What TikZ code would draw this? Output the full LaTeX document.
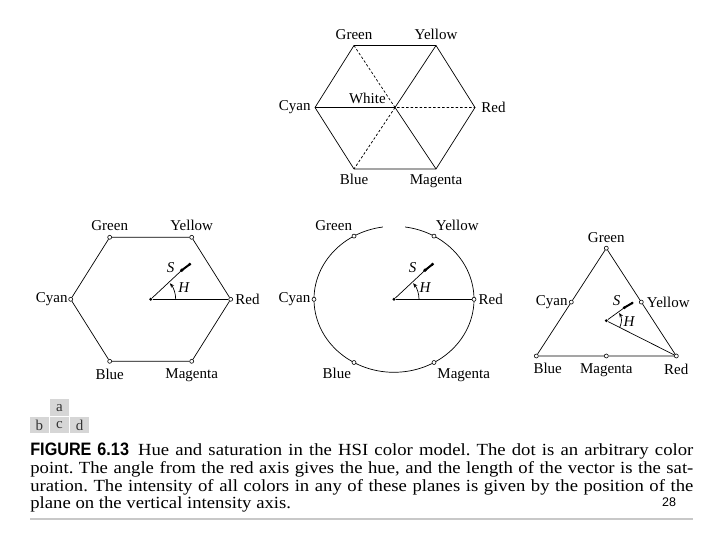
\documentclass[tikz,border=0pt]{standalone}
\usepackage{fontspec}
\setmainfont{Liberation Serif}
\newfontfamily\capfont[FakeStretch=1.1]{Liberation Serif}
\newfontfamily\capsffont[FakeStretch=0.9]{Liberation Sans}
\newfontfamily\pagefont{Liberation Sans}
\usepackage{tikz}
\usetikzlibrary{positioning, arrows.meta, calc}
\definecolor{PanelGray}{RGB}{214,214,214}
\definecolor{RuleGray}{RGB}{200,200,200}
\frenchspacing

\begin{document}
\begin{tikzpicture}[x=1pt, y=1pt, line width=0.7pt,
    lbl/.style={inner sep=0pt, font=\fontsize{15}{15}\selectfont},
    vlbl/.style={inner sep=0pt, font=\fontsize{15}{15}\selectfont\itshape},
    vtx/.style={circle, draw, fill=white, inner sep=0pt, minimum size=4pt, line width=0.6pt},
    cdot/.style={circle, fill, inner sep=0pt, minimum size=3.2pt},
    hueArc/.style={-{Stealth[length=4.5pt, width=3.6pt]}},
    satEnd/.style={line width=2pt, line cap=round},
    panel/.style={fill=PanelGray, inner sep=0pt, minimum width=19.5pt, minimum height=16.7pt,
      text=black!80, font=\fontsize{15}{15}\selectfont},
    capline/.style={inner sep=0pt, anchor=base west, font=\fontsize{17}{18}\capfont}]
  \fill[white] (0,0) rectangle (720,540);
  \useasboundingbox (0,0) rectangle (720,540);

  % a: hexagon with the white point in the middle
  \begin{scope}[shift={(395,432.5)}]
    \coordinate (aR) at (80,0);
    \coordinate (aY) at (41,62);
    \coordinate (aG) at (-41,62);
    \coordinate (aC) at (-80,0);
    \coordinate (aB) at (-41,-61.5);
    \coordinate (aM) at (41,-61.5);
    \coordinate (aW) at (0,0);
    \draw (aG) -- (aY) -- (aR) -- (aM) -- (aB) -- (aC) -- cycle;
    \draw (aC) -- (aW) -- (aY);
    \draw (aW) -- (aM);
    \draw[dash pattern=on 2.5pt off 2pt] (aG) -- (aW) -- (aR);
    \draw[dash pattern=on 2.5pt off 2pt] (aW) -- (aB);
    \node[lbl, above=5pt of aG] (laG) {Green};
    \node[lbl, above=5pt of aY] (laY) {Yellow};
    \node[lbl, left=4pt of aC] (laC) {Cyan};
    \node[lbl, right=6pt of aR] (laR) {Red};
    \node[lbl, below=5pt of aB] (laB) {Blue};
    \node[lbl, below=5pt of aM] (laM) {Magenta};
    \node[lbl, above left=3pt and 9pt of aW] (laW) {White};
  \end{scope}

  % b: hexagon
  \begin{scope}[shift={(150.7,240.7)}]
    \node[vtx] (bR) at (80,0) {};
    \node[vtx] (bY) at (41,62) {};
    \node[vtx] (bG) at (-41,62) {};
    \node[vtx] (bC) at (-80,0) {};
    \node[vtx] (bB) at (-41,-62) {};
    \node[vtx] (bM) at (41,-62) {};
    \node[cdot] (bO) at (0,0) {};
    \coordinate (bP) at (31,29);
    \coordinate (bQ) at (39,35);
    \draw (bG) -- (bY) -- (bR) -- (bM) -- (bB) -- (bC) -- (bG);
    \draw (bO) -- (bR);
    \draw (bO) -- (bP);
    \draw[satEnd] (bP) -- (bQ);
    \fill (bP) circle (1.8pt);
    \fill (bQ) circle (1.6pt);
    \draw[hueArc] (25,0) arc[start angle=0, end angle=40, radius=25pt];
    \node[lbl, above=4pt of bG] (lbG) {Green};
    \node[lbl, above=4pt of bY] (lbY) {Yellow};
    \node[lbl, left=0.5pt of bC] (lbC) {Cyan};
    \node[lbl, right=2pt of bR] (lbR) {Red};
    \node[lbl, below=5pt of bB] (lbB) {Blue};
    \node[lbl, below=5pt of bM] (lbM) {Magenta};
    \node[vlbl] (bS) at (20,32) {S};
    \node[vlbl] (bH) at (33,12) {H};
  \end{scope}

  % c: circle
  \begin{scope}[shift={(394,240.7)}]
    \draw (98:80pt and 73pt) arc[start angle=98, end angle=442, x radius=80pt, y radius=73pt];
    \node[vtx] (cR) at (80,0) {};
    \node[vtx] (cY) at (40,63.2) {};
    \node[vtx] (cG) at (-40,63.2) {};
    \node[vtx] (cC) at (-80,0) {};
    \node[vtx] (cB) at (-40,-63.2) {};
    \node[vtx] (cM) at (40,-63.2) {};
    \node[cdot] (cO) at (0,0) {};
    \coordinate (cP) at (31,29);
    \coordinate (cQ) at (38.5,35);
    \draw (cO) -- (cR);
    \draw (cO) -- (cP);
    \draw[satEnd] (cP) -- (cQ);
    \fill (cP) circle (1.8pt);
    \fill (cQ) circle (1.6pt);
    \draw[hueArc] (25,0) arc[start angle=0, end angle=40, radius=25pt];
    \node[lbl, above left=3pt and 0pt of cG] (lcG) {Green};
    \node[lbl, above right=3pt and 0pt of cY] (lcY) {Yellow};
    \node[lbl, left=1pt of cC] (lcC) {Cyan};
    \node[lbl, right=2pt of cR] (lcR) {Red};
    \node[lbl, below left=4pt and 1pt of cB] (lcB) {Blue};
    \node[lbl, below right=4pt and 1.5pt of cM] (lcM) {Magenta};
    \node[vlbl] (cS) at (18.7,32) {S};
    \node[vlbl] (cH) at (31,12) {H};
  \end{scope}

  % d: triangle
  \begin{scope}[shift={(606.3,219.3)}]
    \node[vtx] (dG) at (0,72.5) {};
    \node[vtx] (dB) at (-70,-35.3) {};
    \node[vtx] (dR) at (70,-35.3) {};
    \node[vtx] (dC) at (-35,18.6) {};
    \node[vtx] (dY) at (35,18.6) {};
    \node[vtx] (dM) at (0,-35.3) {};
    \node[cdot] (dO) at (0,0) {};
    \coordinate (dP) at (18,13);
    \coordinate (dQ) at (26,17.7);
    \draw (dG) -- (dC) -- (dB) -- (dM) -- (dR) -- (dY) -- (dG);
    \draw (dO) -- (dR);
    \draw (dO) -- (dP);
    \draw[satEnd] (dP) -- (dQ);
    \fill (dP) circle (1.6pt);
    \fill (dQ) circle (1.4pt);
    \draw[hueArc] (-27:15pt) arc[start angle=-27, end angle=31, radius=15pt];
    \node[lbl, above=3pt of dG] (ldG) {Green};
    \node[lbl, left=1pt of dC] (ldC) {Cyan};
    \node[lbl, right=3pt of dY] (ldY) {Yellow};
    \node[lbl, anchor=north west] (ldB) at ([xshift=-1.5pt, yshift=-5pt]dB.south west) {Blue};
    \node[lbl, below=5pt of dM] (ldM) {Magenta};
    \node[lbl, below=5pt of dR] (ldR) {Red};
    \node[vlbl] (dS) at (10.4,19.7) {S};
    \node[vlbl] (dH) at (22.7,-1) {H};
  \end{scope}

  % panel key and caption
  \node[panel] (pc) at (59.5,115) {c};
  \node[panel, left=0pt of pc] (pb) {b};
  \node[panel, right=0pt of pc] (pd) {d};
  \node[panel, above=0pt of pc] (pa) {a};

  \node[capline] (cap1) at (30,84) {\makebox[663pt][s]{{\fontsize{18}{18}\capsffont\bfseries FIGURE 6.13}\hspace{9pt}Hue and saturation in the HSI color model. The dot is an arbitrary color}};
  \node[capline] (cap2) at (30,66.3) {\makebox[663pt][s]{point. The angle from the red axis gives the hue, and the length of the vector is the sat-}};
  \node[capline] (cap3) at (30,48.6) {\makebox[663pt][s]{uration. The intensity of all colors in any of these planes is given by the position of the}};
  \node[capline] (cap4) at (30,31) {plane on the vertical intensity axis.};
  \node[inner sep=0pt, anchor=base, font=\fontsize{12.5}{12.5}\pagefont] (pgno) at (669,33) {28};
  \coordinate (ruleL) at (30,21);
  \coordinate (ruleR) at (693,21);
  \draw[RuleGray, line width=1.5pt] (ruleL) -- (ruleR);
\end{tikzpicture}
\end{document}
